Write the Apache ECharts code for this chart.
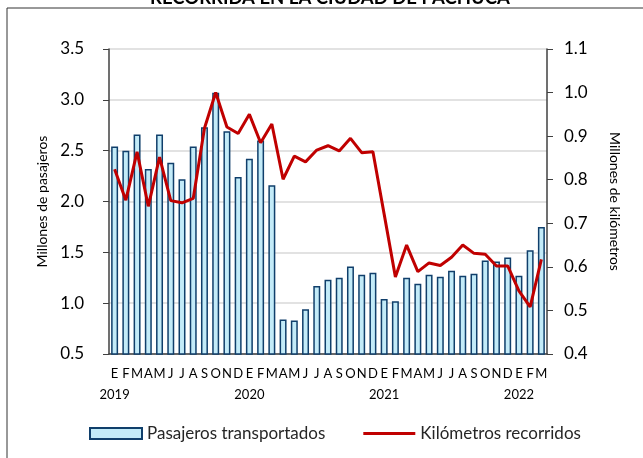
<!DOCTYPE html>
<html>
<head>
<meta charset="utf-8">
<script src="https://cdn.jsdelivr.net/npm/echarts@6/dist/echarts.min.js"></script>
<style>
  html, body { margin: 0; padding: 0; background: #fff; }
  #chart { width: 643px; height: 458px; }
</style>
</head>
<body>
<div id="chart"></div>
<script>
// meses y años del eje x
var meses = ['E', 'F', 'M', 'A', 'M', 'J', 'J', 'A', 'S', 'O', 'N', 'D'];
var anios = ['2019', '2020', '2021', '2022'];

// millones de pasajeros transportados (ene 2019 - mar 2022)
var pasajeros = [2.54, 2.50, 2.66, 2.32, 2.66, 2.38, 2.22, 2.54, 2.73, 3.07, 2.69, 2.24,
                 2.42, 2.60, 2.16, 0.84, 0.83, 0.94, 1.17, 1.23, 1.25, 1.36, 1.28, 1.30,
                 1.04, 1.02, 1.25, 1.19, 1.28, 1.26, 1.32, 1.27, 1.29, 1.42, 1.41, 1.45,
                 1.27, 1.52, 1.75];

// millones de kilómetros recorridos
var kilometros = [0.824, 0.753, 0.864, 0.739, 0.852, 0.752, 0.747, 0.757, 0.918, 1.000, 0.921, 0.906,
                  0.950, 0.885, 0.928, 0.801, 0.854, 0.841, 0.868, 0.878, 0.866, 0.895, 0.862, 0.864,
                  0.721, 0.577, 0.650, 0.589, 0.609, 0.603, 0.622, 0.650, 0.631, 0.629, 0.602, 0.602,
                  0.545, 0.508, 0.617];

var categorias = [];
for (var i = 0; i < pasajeros.length; i++) {
    var m = meses[i % 12];
    categorias.push(i % 12 === 0 ? m + '\n' + anios[Math.floor(i / 12)] : m);
}

var fuente = 'Lato, "Liberation Sans", sans-serif';
var myChart = echarts.init(document.getElementById('chart'));

var option = {
    animation: false,
    textStyle: { fontFamily: fuente, color: '#262626' },
    graphic: [
        {
            type: 'rect',
            shape: { x: 7, y: 8, width: 700, height: 500 },
            style: { fill: 'none', stroke: '#333', lineWidth: 1 }
        },
        {
            type: 'text',
            left: 150,
            top: -11,
            style: {
                text: 'RECORRIDA EN LA CIUDAD DE PACHUCA',
                font: 'bold 18.5px ' + fuente,
                fill: '#000'
            }
        }
    ],
    legend: {
        left: 84,
        top: 420,
        itemWidth: 52,
        itemHeight: 11,
        itemGap: 38,
        symbolKeepAspect: true,
        textStyle: { fontSize: 17, fontFamily: fuente, color: '#262626' },
        data: [
            { name: 'Pasajeros transportados', icon: 'rect' },
            { name: 'Kilómetros recorridos', icon: 'path://M0,0L52,0L52,3L0,3Z' }
        ]
    },
    grid: {
        left: 109,
        right: 96,
        top: 49,
        bottom: 104
    },
    xAxis: {
        type: 'category',
        data: categorias,
        axisLine: { lineStyle: { color: '#404040', width: 1.5 } },
        axisTick: {
            length: 5,
            interval: function (idx) { return idx % 12 === 0; },
            lineStyle: { color: '#404040' }
        },
        axisLabel: {
            interval: 0,
            fontSize: 13,
            lineHeight: 21,
            margin: 9,
            color: '#000'
        }
    },
    yAxis: [
        {
            type: 'value',
            min: 0.5,
            max: 3.5,
            interval: 0.5,
            name: 'Millones de pasajeros',
            nameLocation: 'middle',
            nameRotate: 90,
            nameGap: 60,
            nameTextStyle: { fontSize: 14, color: '#000' },
            axisLine: { show: true, lineStyle: { color: '#404040', width: 1.5 } },
            axisTick: { show: true, length: 6, lineStyle: { color: '#404040' } },
            axisLabel: {
                fontSize: 17,
                margin: 25,
                color: '#000',
                formatter: function (v) { return v.toFixed(1); }
            },
            splitLine: { lineStyle: { color: '#d9d9d9', width: 1.5 } }
        },
        {
            type: 'value',
            min: 0.4,
            max: 1.1,
            interval: 0.1,
            name: 'Millones de kilómetros',
            nameLocation: 'middle',
            nameRotate: -90,
            nameGap: 61,
            nameTextStyle: { fontSize: 14, color: '#000' },
            axisLine: { show: true, lineStyle: { color: '#404040', width: 1.5 } },
            axisTick: { show: true, length: 6, lineStyle: { color: '#404040' } },
            axisLabel: {
                fontSize: 17,
                margin: 17,
                color: '#000',
                formatter: function (v) { return v.toFixed(1); }
            },
            splitLine: { show: false }
        }
    ],
    series: [
        {
            name: 'Pasajeros transportados',
            type: 'bar',
            yAxisIndex: 0,
            barCategoryGap: '38%',
            data: pasajeros,
            itemStyle: {
                color: '#c3ebf8',
                borderColor: '#103f6b',
                borderWidth: 1.5
            }
        },
        {
            name: 'Kilómetros recorridos',
            type: 'line',
            yAxisIndex: 1,
            symbol: 'none',
            data: kilometros,
            lineStyle: { color: '#c00000', width: 3 },
            itemStyle: { color: '#c00000' }
        }
    ]
};

myChart.setOption(option);
</script>
</body>
</html>
